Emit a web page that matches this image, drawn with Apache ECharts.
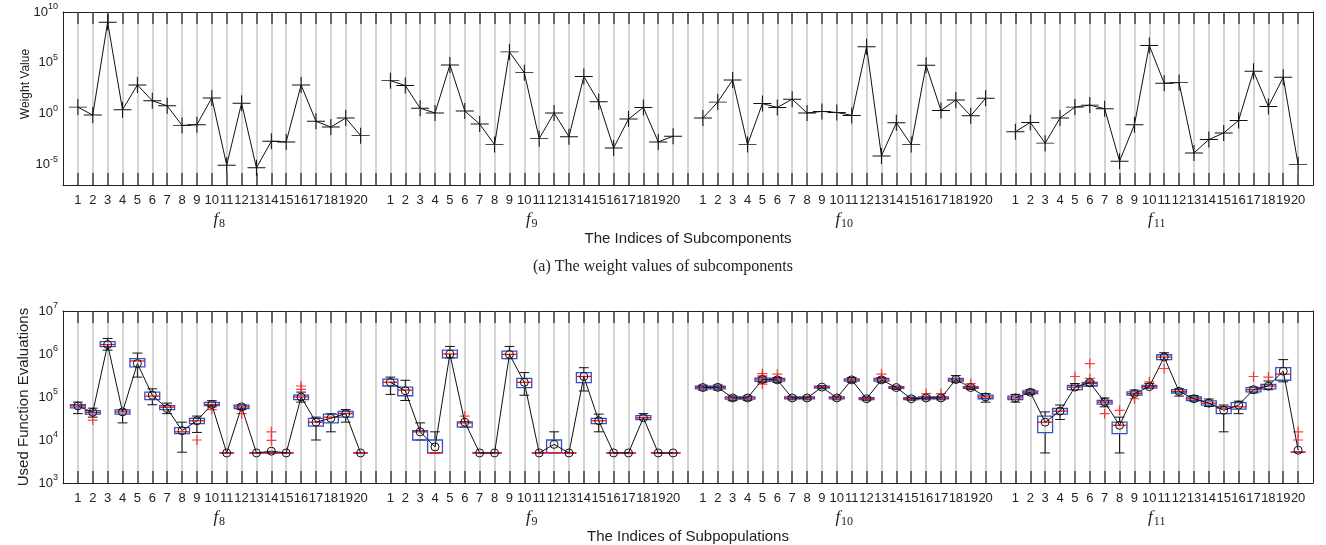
<!DOCTYPE html>
<html>
<head>
<meta charset="utf-8">
<script src="https://cdn.jsdelivr.net/npm/echarts@6/dist/echarts.min.js"></script>
<style>
  html, body { margin: 0; padding: 0; background: #fff; }
  #main { width: 1326px; height: 545px; }
</style>
</head>
<body>
<div id="main"></div>
<script>
var groups = ['f8', 'f9', 'f10', 'f11'];
var groupSize = 20;

// (a) weight values of the subcomponents
var weightF8 = [4.5, 0.74, 1e9, 2.5, 680, 19, 6, 0.072, 0.085, 36, 8.9e-6, 11, 4.9e-6, 2.0e-3, 1.7e-3, 680, 0.18, 0.05, 0.38, 7.1e-3];
var weightF9 = [1800, 590, 3.5, 1.2, 6.2e4, 1.9, 0.098, 9.3e-4, 1.2e6, 1.1e4, 3.6e-3, 1.2, 5.6e-3, 4500, 15, 4.4e-4, 0.3, 4.2, 1.7e-3, 6.3e-3];
var weightF10 = [0.38, 14, 2100, 9.3e-4, 10, 4.2, 27, 1.2, 1.7, 1.35, 0.69, 3.8e6, 7.2e-5, 0.13, 9.3e-4, 5.8e4, 2.1, 23, 0.63, 34];
var weightF11 = [0.017, 0.14, 1.3e-3, 0.38, 4.5, 7.1, 3.1, 2.2e-5, 0.085, 5.1e6, 1000, 1150, 1.4e-4, 2.9e-3, 0.013, 0.22, 1.5e4, 5.2, 3800, 1.0e-5];

// (b) used function evaluations: [low whisker, q1, median, q3, high whisker, mean]
var fevF8 = [
  [4.1e4, 5.6e4, 6.2e4, 6.6e4, 7.6e4, 6.2e4],
  [3.4e4, 4.0e4, 4.4e4, 4.8e4, 5.5e4, 4.4e4],
  [1.23e6, 1.48e6, 1.66e6, 1.95e6, 2.3e6, 1.66e6],
  [2.5e4, 4.0e4, 4.5e4, 5.0e4, 5.1e4, 4.5e4],
  [2.9e5, 5.0e5, 6.9e5, 7.8e5, 1.05e6, 6.0e5],
  [6.6e4, 8.7e4, 1.05e5, 1.3e5, 1.55e5, 1.1e5],
  [4.1e4, 5.1e4, 5.8e4, 6.3e4, 7.2e4, 5.4e4],
  [5.2e3, 1.4e4, 1.55e4, 1.95e4, 2.6e4, 1.65e4],
  [1.5e4, 2.4e4, 2.8e4, 3.2e4, 3.6e4, 2.8e4],
  [5.9e4, 6.3e4, 6.7e4, 7.5e4, 8.2e4, 6.7e4],
  [5000, 5000, 5000, 5000, 5000, 5000],
  [5.1e4, 5.4e4, 5.9e4, 6.5e4, 6.6e4, 5.9e4],
  [5000, 5000, 5000, 5000, 5000, 5000],
  [5000, 5000, 5000, 5000, 5000, 5500],
  [5000, 5000, 5000, 5000, 5000, 5000],
  [7.6e4, 8.7e4, 1.0e5, 1.1e5, 1.3e5, 1.0e5],
  [1.0e4, 2.1e4, 2.6e4, 3.2e4, 3.4e4, 2.6e4],
  [1.55e4, 2.5e4, 3.4e4, 4.0e4, 4.1e4, 3.2e4],
  [2.6e4, 3.4e4, 4.1e4, 4.6e4, 5.1e4, 4.1e4],
  [5000, 5000, 5000, 5000, 5000, 5000]
];
var fevF9 = [
  [1.15e5, 1.8e5, 2.2e5, 2.6e5, 2.9e5, 2.2e5],
  [8.3e4, 1.07e5, 1.45e5, 1.7e5, 2.45e5, 1.4e5],
  [1.0e4, 1.0e4, 1.55e4, 1.66e4, 2.5e4, 1.55e4],
  [5000, 5000, 5000, 1.0e4, 1.55e4, 6.9e3],
  [8.1e5, 8.1e5, 1.0e6, 1.23e6, 1.5e6, 1.0e6],
  [2.0e4, 2.0e4, 2.5e4, 2.65e4, 2.7e4, 2.6e4],
  [5000, 5000, 5000, 5000, 5000, 5000],
  [5000, 5000, 5000, 5000, 5000, 5000],
  [7.8e5, 7.8e5, 9.8e5, 1.17e6, 1.5e6, 9.8e5],
  [1.1e5, 1.66e5, 2.2e5, 2.7e5, 3.7e5, 2.2e5],
  [5000, 5000, 5000, 5000, 5000, 5000],
  [5000, 5000, 5000, 1.0e4, 1.55e4, 7.9e3],
  [5000, 5000, 5000, 5000, 5000, 5000],
  [1.38e5, 2.15e5, 3.0e5, 3.7e5, 4.8e5, 3.0e5],
  [1.55e4, 2.4e4, 2.8e4, 3.2e4, 4.0e4, 2.8e4],
  [5000, 5000, 5000, 5000, 5000, 5000],
  [5000, 5000, 5000, 5000, 5000, 5000],
  [3.0e4, 3.0e4, 3.3e4, 3.7e4, 4.1e4, 3.3e4],
  [5000, 5000, 5000, 5000, 5000, 5000],
  [5000, 5000, 5000, 5000, 5000, 5000]
];
var fevF10 = [
  [1.45e5, 1.55e5, 1.66e5, 1.78e5, 1.88e5, 1.66e5],
  [1.45e5, 1.55e5, 1.66e5, 1.78e5, 1.9e5, 1.68e5],
  [8.2e4, 8.9e4, 9.5e4, 1.01e5, 1.06e5, 9.5e4],
  [8.4e4, 8.9e4, 9.5e4, 1.01e5, 1.05e5, 9.5e4],
  [2.2e5, 2.3e5, 2.5e5, 2.75e5, 2.9e5, 2.55e5],
  [2.2e5, 2.35e5, 2.5e5, 2.7e5, 2.85e5, 2.5e5],
  [8.6e4, 9.0e4, 9.5e4, 1.0e5, 1.04e5, 9.5e4],
  [8.6e4, 9.0e4, 9.5e4, 1.0e5, 1.04e5, 9.5e4],
  [1.55e5, 1.62e5, 1.7e5, 1.78e5, 1.85e5, 1.7e5],
  [8.6e4, 9.0e4, 9.5e4, 1.0e5, 1.05e5, 9.5e4],
  [2.2e5, 2.35e5, 2.5e5, 2.65e5, 2.85e5, 2.5e5],
  [8.2e4, 8.7e4, 9.1e4, 9.6e4, 1.0e5, 9.1e4],
  [2.2e5, 2.35e5, 2.5e5, 2.7e5, 2.85e5, 2.5e5],
  [1.5e5, 1.58e5, 1.66e5, 1.74e5, 1.8e5, 1.66e5],
  [8.4e4, 8.7e4, 9.1e4, 9.6e4, 1.0e5, 9.1e4],
  [8.6e4, 9.0e4, 9.5e4, 1.0e5, 1.04e5, 9.5e4],
  [8.6e4, 9.0e4, 9.5e4, 1.0e5, 1.04e5, 9.5e4],
  [2.2e5, 2.35e5, 2.5e5, 2.7e5, 3.15e5, 2.55e5],
  [1.5e5, 1.58e5, 1.66e5, 1.74e5, 1.8e5, 1.66e5],
  [7.6e4, 9.1e4, 1.0e5, 1.1e5, 1.2e5, 1.0e5]
];
var fevF11 = [
  [7.6e4, 8.7e4, 9.5e4, 1.05e5, 1.15e5, 9.5e4],
  [1.15e5, 1.2e5, 1.29e5, 1.38e5, 1.48e5, 1.29e5],
  [5000, 1.48e4, 2.6e4, 3.6e4, 4.5e4, 2.6e4],
  [3.0e4, 4.0e4, 4.7e4, 5.4e4, 6.5e4, 4.7e4],
  [1.48e5, 1.48e5, 1.7e5, 1.87e5, 2.05e5, 1.7e5],
  [1.8e5, 1.8e5, 2.05e5, 2.2e5, 2.35e5, 2.15e5],
  [5.9e4, 6.8e4, 7.6e4, 8.3e4, 9.5e4, 7.6e4],
  [5000, 1.4e4, 2.2e4, 2.6e4, 3.4e4, 2.2e4],
  [1.1e5, 1.1e5, 1.2e5, 1.32e5, 1.45e5, 1.2e5],
  [1.6e5, 1.6e5, 1.74e5, 1.87e5, 2.05e5, 1.74e5],
  [7.4e5, 7.4e5, 8.5e5, 9.6e5, 1.07e6, 8.5e5],
  [1.05e5, 1.24e5, 1.35e5, 1.48e5, 1.55e5, 1.35e5],
  [8.0e4, 8.3e4, 9.1e4, 1.0e5, 1.07e5, 9.1e4],
  [6.0e4, 6.5e4, 7.2e4, 8.1e4, 9.0e4, 7.2e4],
  [1.55e4, 4.1e4, 5.5e4, 6.0e4, 6.5e4, 4.9e4],
  [4.1e4, 5.2e4, 5.9e4, 7.4e4, 8.0e4, 6.5e4],
  [1.24e5, 1.32e5, 1.48e5, 1.66e5, 1.7e5, 1.48e5],
  [1.48e5, 1.55e5, 1.8e5, 1.97e5, 2.35e5, 1.8e5],
  [2.25e5, 2.45e5, 3.4e5, 4.8e5, 7.4e5, 4.0e5],
  [5200, 5200, 5200, 5200, 5200, 5800]
];

// outliers: [index inside group, value]
var outF8 = [[2, 2.9e4], [9, 1.0e4], [10, 5.1e4], [12, 4.1e4], [14, 1.55e4], [14, 9.8e3], [16, 1.8e5], [16, 1.5e5]];
var outF9 = [[6, 3.6e4]];
var outF10 = [[5, 3.5e5], [5, 3.1e5], [5, 2.0e5], [6, 3.4e5], [13, 3.4e5], [16, 1.2e5], [17, 1.2e5], [19, 2.05e5]];
var outF11 = [[5, 3.0e5], [6, 6.0e5], [6, 2.7e5], [7, 4.1e4], [8, 4.9e4], [9, 9.1e4], [10, 2.25e5], [11, 4.6e5], [17, 3.0e5], [18, 2.9e5], [20, 1.55e4], [20, 1.0e4]];

// category slots: one empty slot before, between and after the groups
var tickLabels = [''];
groups.forEach(function () {
  for (var i = 1; i <= groupSize; i++) tickLabels.push(String(i));
  tickLabels.push('');
});
var last = tickLabels.length - 1;
function slot(g, i) { return g * (groupSize + 1) + i; }

function lineData(arrs) {
  var d = tickLabels.map(function () { return '-'; });
  arrs.forEach(function (a, g) {
    a.forEach(function (v, i) { d[slot(g, i + 1)] = v; });
  });
  return d;
}
var boxData = [];
var meanArrs = [];
[fevF8, fevF9, fevF10, fevF11].forEach(function (rows, g) {
  meanArrs.push(rows.map(function (r) { return r[5]; }));
  rows.forEach(function (r, i) {
    boxData.push([slot(g, i + 1), r[0], r[1], r[2], r[3], r[4]]);
  });
});
var outData = [];
[outF8, outF9, outF10, outF11].forEach(function (list, g) {
  list.forEach(function (o) { outData.push([slot(g, o[0]), o[1]]); });
});

var sans = 'Liberation Sans';
var serif = 'Liberation Serif';
var inner = function (i) { return i > 0 && i < last; };

function mainX(grid) {
  return {
    gridIndex: grid, type: 'category', data: tickLabels, boundaryGap: false, position: 'bottom',
    axisLine: { onZero: false, lineStyle: { color: '#222', width: 1 } },
    axisTick: { inside: true, length: 12, interval: inner, lineStyle: { color: '#444', width: 1.5 } },
    axisLabel: { interval: 0, margin: 9, fontFamily: sans, fontSize: 13, color: '#222' },
    splitLine: { show: true, interval: inner, lineStyle: { color: '#c4c4c4', width: 1.5 } }
  };
}
function topX(grid) {
  return {
    gridIndex: grid, type: 'category', data: tickLabels, boundaryGap: false, position: 'top',
    axisLine: { onZero: false, lineStyle: { color: '#222', width: 1 } },
    axisTick: { inside: true, length: 12, interval: inner, lineStyle: { color: '#444', width: 1.5 } },
    axisLabel: { show: false }, splitLine: { show: false }
  };
}
function groupX(grid, name) {
  return {
    gridIndex: grid, type: 'category', data: groups, position: 'bottom',
    axisLine: { show: false }, axisTick: { show: false }, splitLine: { show: false },
    axisLabel: {
      margin: 24, interval: 0,
      formatter: function (v) { return '{i|f}{s|' + v.slice(1) + '}'; },
      rich: {
        i: { fontFamily: serif, fontStyle: 'italic', fontSize: 17, color: '#222' },
        s: { fontFamily: serif, fontSize: 12, color: '#222', padding: [9, 0, 0, 1] }
      }
    },
    name: name, nameLocation: 'middle', nameGap: 42,
    nameTextStyle: { fontFamily: sans, fontSize: 15, color: '#222' }
  };
}
var powRich = {
  b: { fontFamily: sans, fontSize: 13, color: '#222' },
  e: { fontFamily: sans, fontSize: 9, color: '#222', padding: [0, 0, 10, 0] }
};
var sideTick = { inside: true, length: 13, lineStyle: { color: '#444', width: 1.5 } };

var option = {
  animation: false,
  backgroundColor: '#fff',
  title: {
    text: '(a) The weight values of subcomponents', left: 'center', top: 254,
    textStyle: { fontFamily: serif, fontSize: 16, fontWeight: 'normal', color: '#222' }
  },
  grid: [
    { left: 63, right: 13, top: 12, height: 173 },
    { left: 63, right: 13, top: 311, height: 172 }
  ],
  xAxis: [mainX(0), topX(0), groupX(0, 'The Indices of Subcomponents'),
          mainX(1), topX(1), groupX(1, 'The Indices of Subpopulations')],
  yAxis: [
    { gridIndex: 0, type: 'log', min: 1e-7, max: 1e10, show: false },
    {
      gridIndex: 0, type: 'value', min: -7, max: 10, position: 'left',
      axisLine: { show: true, onZero: false, lineStyle: { color: '#222', width: 1 } },
      axisTick: { inside: true, length: 13, customValues: [-5, 0, 5, 10], lineStyle: { color: '#444', width: 1.5 } },
      axisLabel: {
        customValues: [-5, 0, 5, 10], margin: 5,
        formatter: function (v) { return '{b|10}{e|' + v + '}'; }, rich: powRich
      },
      splitLine: { show: false },
      name: 'Weight Value', nameLocation: 'middle', nameGap: 31, nameMoveOverlap: false,
      nameTextStyle: { fontFamily: sans, fontSize: 12, color: '#222', padding: [0, 0, 0, 29] }
    },
    {
      gridIndex: 0, type: 'value', min: -7, max: 10, position: 'right',
      axisLine: { show: true, onZero: false, lineStyle: { color: '#222', width: 1 } },
      axisTick: { inside: true, length: 13, customValues: [-5, 0, 5, 10], lineStyle: { color: '#444', width: 1.5 } },
      axisLabel: { show: false }, splitLine: { show: false }
    },
    {
      gridIndex: 1, type: 'log', min: 1e3, max: 1e7, position: 'left',
      axisLine: { show: true, onZero: false, lineStyle: { color: '#222', width: 1 } },
      axisTick: sideTick,
      axisLabel: {
        margin: 5,
        formatter: function (v) { return '{b|10}{e|' + Math.round(Math.log10(v)) + '}'; }, rich: powRich
      },
      splitLine: { show: false },
      name: 'Used Function Evaluations', nameLocation: 'middle', nameGap: 32, nameMoveOverlap: false,
      nameTextStyle: { fontFamily: sans, fontSize: 15, color: '#222' }
    },
    {
      gridIndex: 1, type: 'log', min: 1e3, max: 1e7, position: 'right',
      axisLine: { show: true, onZero: false, lineStyle: { color: '#222', width: 1 } },
      axisTick: sideTick, axisLabel: { show: false }, splitLine: { show: false }
    }
  ],
  series: [
    {
      type: 'line', xAxisIndex: 0, yAxisIndex: 0,
      data: lineData([weightF8, weightF9, weightF10, weightF11]),
      showAllSymbol: true,
      symbol: 'path://M0,8L18,8M9,0L9,16', symbolSize: [18, 16],
      itemStyle: { color: 'rgba(0,0,0,0)', borderColor: '#111', borderWidth: 1 },
      lineStyle: { color: '#111', width: 1 }
    },
    {
      type: 'custom', xAxisIndex: 3, yAxisIndex: 3, data: boxData,
      encode: { x: 0, y: [1, 2, 3, 4, 5] },
      renderItem: function (params, api) {
        var x = api.value(0);
        var lo = api.coord([x, api.value(1)]);
        var q1 = api.coord([x, api.value(2)]);
        var md = api.coord([x, api.value(3)]);
        var q3 = api.coord([x, api.value(4)]);
        var hi = api.coord([x, api.value(5)]);
        var band = api.size([1, 0], [x, api.value(3)])[0];
        var hw = band * 0.5, cw = band * 0.33, cx = md[0];
        var black = { stroke: '#111', lineWidth: 1, fill: null };
        return {
          type: 'group', children: [
            { type: 'line', shape: { x1: cx, y1: lo[1], x2: cx, y2: q1[1] }, style: black },
            { type: 'line', shape: { x1: cx, y1: q3[1], x2: cx, y2: hi[1] }, style: black },
            { type: 'line', shape: { x1: cx - cw, y1: lo[1], x2: cx + cw, y2: lo[1] }, style: black },
            { type: 'line', shape: { x1: cx - cw, y1: hi[1], x2: cx + cw, y2: hi[1] }, style: black },
            { type: 'rect', shape: { x: cx - hw, y: q3[1], width: 2 * hw, height: q1[1] - q3[1] },
              style: { fill: null, stroke: '#3350c8', lineWidth: 1.3 } },
            { type: 'line', shape: { x1: cx - hw, y1: md[1], x2: cx + hw, y2: md[1] },
              style: { stroke: '#ff1010', lineWidth: 1.3 } }
          ]
        };
      }
    },
    {
      type: 'scatter', xAxisIndex: 3, yAxisIndex: 3, data: outData,
      symbol: 'path://M0,5L10,5M5,0L5,10', symbolSize: 10,
      itemStyle: { color: 'rgba(0,0,0,0)', borderColor: '#ff1010', borderWidth: 1.2 }
    },
    {
      type: 'line', xAxisIndex: 3, yAxisIndex: 3,
      data: lineData(meanArrs), showAllSymbol: true,
      symbol: 'circle', symbolSize: 8,
      itemStyle: { color: 'rgba(0,0,0,0)', borderColor: '#111', borderWidth: 1 },
      lineStyle: { color: '#111', width: 1 }
    }
  ]
};

var chart = echarts.init(document.getElementById('main'));
chart.setOption(option);
</script>
</body>
</html>
